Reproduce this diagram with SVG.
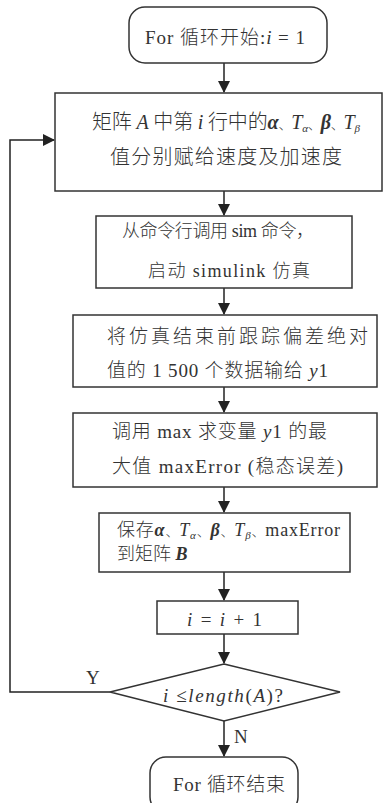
<svg xmlns="http://www.w3.org/2000/svg" width="383" height="803" viewBox="0 0 383 803">
<defs>
<marker id="ah" markerWidth="12" markerHeight="12" refX="11" refY="6" orient="auto" markerUnits="userSpaceOnUse">
<path d="M0,0 L12,6 L0,12 Z" fill="#222"/>
</marker>
<style>
.box{fill:#fff;stroke:#333;stroke-width:1.5}
.ln{fill:none;stroke:#222;stroke-width:1.5}
text{font-family:"Liberation Serif","Noto Sans CJK SC",serif;font-size:19px;fill:#333;font-weight:300}
.i{font-style:italic}
.bi{font-style:italic;font-weight:bold}
.sub{font-size:11px}
.d{font-size:13px}
</style>
</defs>
<rect width="383" height="803" fill="#fff"/>
<g id="connectors">
<line class="ln" x1="224" y1="63" x2="224" y2="92" marker-end="url(#ah)"/>
<line class="ln" x1="224" y1="191" x2="224" y2="215" marker-end="url(#ah)"/>
<line class="ln" x1="224" y1="288" x2="224" y2="314" marker-end="url(#ah)"/>
<line class="ln" x1="224" y1="387" x2="224" y2="412" marker-end="url(#ah)"/>
<line class="ln" x1="224" y1="487" x2="224" y2="512" marker-end="url(#ah)"/>
<line class="ln" x1="224" y1="572" x2="224" y2="600" marker-end="url(#ah)"/>
<line class="ln" x1="224" y1="634" x2="224" y2="663" marker-end="url(#ah)"/>
<line class="ln" x1="224" y1="721" x2="224" y2="756" marker-end="url(#ah)"/>
<polyline class="ln" points="110,692 10,692 10,140 54,140" marker-end="url(#ah)"/>
<text x="86" y="684">Y</text>
<text x="234" y="743">N</text>
</g>
<g id="start">
<rect class="box" x="129" y="7" width="198" height="56" rx="16"/>
<text x="145" y="44" textLength="160">For 循环开始:<tspan class="i">i</tspan> = 1</text>
</g>
<g id="assign">
<rect class="box" x="55" y="93" width="327" height="98"/>
<text x="92" y="129" textLength="268" style="font-size:20px">矩阵 <tspan class="i">A</tspan> 中第 <tspan class="i">i</tspan> 行中的<tspan class="bi">α</tspan><tspan class="d">、</tspan><tspan class="i">T</tspan><tspan class="i sub" dy="3">α</tspan><tspan class="d" dy="-3">、</tspan><tspan class="bi">β</tspan><tspan class="d">、</tspan><tspan class="i">T</tspan><tspan class="i sub" dy="3">β</tspan></text>
<text x="110" y="164" textLength="232" style="font-size:20px">值分别赋给速度及加速度</text>
</g>
<g id="sim">
<rect class="box" x="96" y="216" width="256" height="72"/>
<text x="122" y="237" textLength="192" style="font-size:18px">从命令行调用 sim 命令，</text>
<text x="148" y="277" textLength="162" style="font-size:18px">启动 simulink 仿真</text>
</g>
<g id="output">
<rect class="box" x="73" y="315" width="304" height="72"/>
<text x="107" y="343" textLength="261">将仿真结束前跟踪偏差绝对</text>
<text x="107" y="377" textLength="221">值的 1 500 个数据输给 <tspan class="i">y</tspan>1</text>
</g>
<g id="max">
<rect class="box" x="73" y="413" width="304" height="74"/>
<text x="112" y="438" textLength="215">调用 max 求变量 <tspan class="i">y</tspan>1 的最</text>
<text x="112" y="473" textLength="231">大值 maxError (稳态误差)</text>
</g>
<g id="save">
<rect class="box" x="99" y="513" width="251" height="59"/>
<text x="117" y="536" textLength="223" style="font-size:18px">保存<tspan class="bi">α</tspan><tspan class="d">、</tspan><tspan class="i">T</tspan><tspan class="i sub" dy="3">α</tspan><tspan class="d" dy="-3">、</tspan><tspan class="bi">β</tspan><tspan class="d">、</tspan><tspan class="i">T</tspan><tspan class="i sub" dy="3">β</tspan><tspan class="d" dy="-3">、</tspan>maxError</text>
<text x="117" y="560" style="font-size:18px">到矩阵 <tspan class="bi">B</tspan></text>
</g>
<g id="incr">
<rect class="box" x="157" y="601" width="141" height="33"/>
<text x="187" y="626" textLength="75"><tspan class="i">i</tspan> = <tspan class="i">i</tspan> + 1</text>
</g>
<g id="cond">
<polygon class="box" points="224,664 340,692 224,721 110,692"/>
<text x="163" y="702" textLength="120"><tspan class="i">i</tspan> ≤<tspan class="i">length</tspan>(<tspan class="i">A</tspan>)?</text>
</g>
<g id="end">
<rect class="box" x="150" y="757" width="148" height="56" rx="16"/>
<text x="173" y="791" textLength="112">For 循环结束</text>
</g>
</svg>
